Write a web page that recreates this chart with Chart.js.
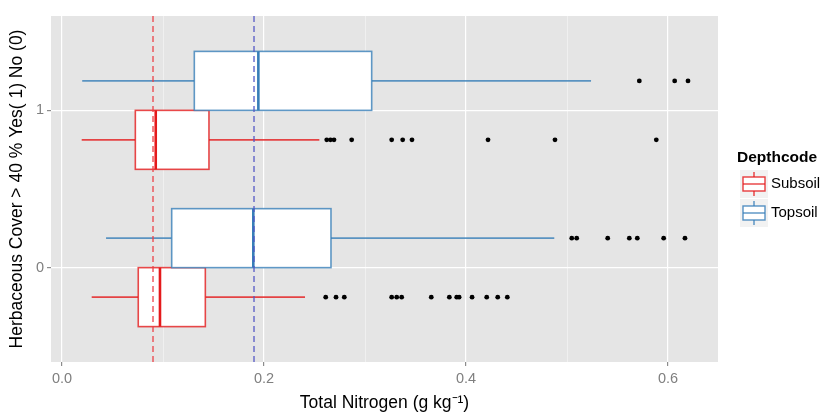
<!DOCTYPE html>
<html>
<head>
<meta charset="utf-8">
<script src="https://cdn.jsdelivr.net/npm/chart.js@4"></script>
<style>
    body { margin: 0; background: #fff; }
</style>
</head>
<body>
<canvas id="boxChart" width="823" height="414"></canvas>
<script>
// Values
const groups = [0, 1];
const depthCodes = ['Subsoil', 'Topsoil'];

// [lower whisker, Q1, median, Q3, upper whisker], one row per group (0, 1)
const subsoilStats = [
    [0.0294, 0.0755, 0.0970, 0.1419, 0.2406],
    [0.0195, 0.0726, 0.0928, 0.1455, 0.2548]
];
const topsoilStats = [
    [0.0436, 0.1086, 0.1894, 0.2663, 0.4874],
    [0.0200, 0.1310, 0.1944, 0.3066, 0.5238]
];

const subsoilOutliers = [
    [0.2611, 0.2713, 0.2795, 0.3264, 0.3314, 0.3363, 0.3656, 0.3835, 0.3908, 0.3932, 0.4060, 0.4205, 0.4314, 0.4409],
    [0.2621, 0.2658, 0.2693, 0.2868, 0.3264, 0.3373, 0.3465, 0.4218, 0.4881, 0.5884]
];
const topsoilOutliers = [
    [0.5047, 0.5096, 0.5403, 0.5617, 0.5696, 0.5957, 0.6168],
    [0.5716, 0.6066, 0.6198]
];

const subsoilMean = 0.0901;
const topsoilMean = 0.1901;

const xMajorTicks = [0, 0.2, 0.4, 0.6];
const xMinorTicks = [0.1, 0.3, 0.5];
const yTicks = [0, 1];

// Style
const FONT = '"Liberation Sans", Arial, Helvetica, sans-serif';
const colors = { Subsoil: '#E41A1C', Topsoil: '#377EB8' };
const dashColors = { Subsoil: 'rgba(236, 60, 66, 0.9)', Topsoil: 'rgba(80, 84, 196, 0.9)' };
const DODGE = 0.1875;   // half of 0.75 / 2
const HALF_BOX = 0.1875;

function dodgeOf(code) {
    return code === 'Subsoil' ? -DODGE : DODGE;
}

function outlierPoints(code, rows) {
    const pts = [];
    rows.forEach((xs, gi) => {
        xs.forEach(x => pts.push({ x: x, y: groups[gi] + dodgeOf(code) }));
    });
    return pts;
}

function isMajor(v) {
    return xMajorTicks.some(t => Math.abs(t - v) < 1e-6);
}

// Grey panel background
const panelBg = {
    id: 'panelBg',
    beforeDraw(chart) {
        const { ctx, chartArea: a } = chart;
        ctx.save();
        ctx.fillStyle = '#E5E5E5';
        ctx.fillRect(a.left, a.top, a.right - a.left, a.bottom - a.top);
        ctx.restore();
    }
};

// Boxes and whiskers
const boxes = {
    id: 'boxes',
    beforeDatasetsDraw(chart) {
        const { ctx, scales: { x, y } } = chart;
        const all = [['Subsoil', subsoilStats], ['Topsoil', topsoilStats]];
        ctx.save();
        all.forEach(([code, rows]) => {
            rows.forEach((s, gi) => {
                const c = groups[gi] + dodgeOf(code);
                const yc = y.getPixelForValue(c);
                const yt = y.getPixelForValue(c + HALF_BOX);
                const yb = y.getPixelForValue(c - HALF_BOX);
                const [wl, q1, med, q3, wr] = s.map(v => x.getPixelForValue(v));

                ctx.strokeStyle = colors[code];
                ctx.globalAlpha = 0.8;
                ctx.lineWidth = 1.6;
                ctx.beginPath();
                ctx.moveTo(wl, yc); ctx.lineTo(q1, yc);
                ctx.moveTo(q3, yc); ctx.lineTo(wr, yc);
                ctx.stroke();

                ctx.globalAlpha = 1;
                ctx.fillStyle = '#FFFFFF';
                ctx.fillRect(q1, yt, q3 - q1, yb - yt);
                ctx.globalAlpha = 0.8;
                ctx.strokeRect(q1, yt, q3 - q1, yb - yt);

                ctx.globalAlpha = 1;
                ctx.lineWidth = 2.6;
                ctx.beginPath();
                ctx.moveTo(med, yt); ctx.lineTo(med, yb);
                ctx.stroke();
            });
        });
        ctx.restore();
    }
};

// Legend on the right
const boxLegend = {
    id: 'boxLegend',
    afterDraw(chart) {
        const ctx = chart.ctx;
        ctx.save();
        ctx.fillStyle = '#000';
        ctx.font = 'bold 15.5px ' + FONT;
        ctx.textBaseline = 'middle';
        ctx.textAlign = 'left';
        ctx.fillText('Depthcode', 737, 158);

        depthCodes.forEach((code, i) => {
            const cy = 184 + i * 29;
            const cx = 754;
            ctx.fillStyle = '#F2F2F2';
            ctx.fillRect(740, cy - 14, 28, 28);

            ctx.strokeStyle = colors[code];
            ctx.globalAlpha = 0.85;
            ctx.lineWidth = 1.4;
            ctx.beginPath();
            ctx.moveTo(cx, cy - 12); ctx.lineTo(cx, cy + 12);
            ctx.stroke();
            ctx.globalAlpha = 1;
            ctx.fillStyle = '#fff';
            ctx.fillRect(743, cy - 7, 22, 14);
            ctx.globalAlpha = 0.85;
            ctx.strokeRect(743, cy - 7, 22, 14);
            ctx.beginPath();
            ctx.moveTo(743, cy); ctx.lineTo(765, cy);
            ctx.stroke();

            ctx.globalAlpha = 1;
            ctx.fillStyle = '#000';
            ctx.font = '15px ' + FONT;
            ctx.fillText(code, 771, cy);
        });
        ctx.restore();
    }
};

const ctx = document.getElementById('boxChart').getContext('2d');
new Chart(ctx, {
    type: 'scatter',
    data: {
        datasets: [
            {
                label: 'Subsoil outliers',
                data: outlierPoints('Subsoil', subsoilOutliers),
                backgroundColor: '#000',
                borderColor: '#000',
                pointRadius: 2.4,
                pointBorderWidth: 0
            },
            {
                label: 'Topsoil outliers',
                data: outlierPoints('Topsoil', topsoilOutliers),
                backgroundColor: '#000',
                borderColor: '#000',
                pointRadius: 2.4,
                pointBorderWidth: 0
            },
            {
                label: 'Subsoil mean',
                data: [{ x: subsoilMean, y: -0.6 }, { x: subsoilMean, y: 1.6 }],
                showLine: true,
                borderColor: dashColors.Subsoil,
                borderWidth: 1.4,
                borderDash: [6, 4],
                pointRadius: 0
            },
            {
                label: 'Topsoil mean',
                data: [{ x: topsoilMean, y: -0.6 }, { x: topsoilMean, y: 1.6 }],
                showLine: true,
                borderColor: dashColors.Topsoil,
                borderWidth: 1.4,
                borderDash: [6, 4],
                pointRadius: 0
            }
        ]
    },
    options: {
        responsive: false,
        animation: false,
        layout: {
            padding: { top: 16, right: 105, left: 0, bottom: 0 }
        },
        plugins: {
            legend: { display: false },
            tooltip: { enabled: false }
        },
        scales: {
            x: {
                type: 'linear',
                min: -0.0109,
                max: 0.6495,
                afterBuildTicks: scale => {
                    scale.ticks = xMajorTicks.concat(xMinorTicks)
                        .sort((a, b) => a - b)
                        .map(v => ({ value: v }));
                },
                afterFit: scale => { scale.height = 52; },
                border: { display: false },
                grid: {
                    color: c => isMajor(c.tick.value) ? '#FFFFFF' : '#F2F2F2',
                    lineWidth: c => isMajor(c.tick.value) ? 1.2 : 0.8,
                    tickColor: c => isMajor(c.tick.value) ? '#8C8C8C' : 'rgba(0,0,0,0)',
                    tickLength: 4
                },
                ticks: {
                    color: '#7F7F7F',
                    font: { family: FONT, size: 14.5 },
                    padding: 4,
                    maxRotation: 0,
                    autoSkip: false,
                    callback: v => isMajor(v) ? v.toFixed(1) : ''
                },
                title: {
                    display: true,
                    text: 'Total Nitrogen (g kg\u207B\u00B9)',
                    color: '#000',
                    font: { family: FONT, size: 17.5 },
                    padding: { top: 0, bottom: 0 }
                }
            },
            y: {
                type: 'linear',
                min: -0.6,
                max: 1.6,
                afterBuildTicks: scale => {
                    scale.ticks = yTicks.map(v => ({ value: v }));
                },
                afterFit: scale => { scale.width = 51; },
                border: { display: false },
                grid: {
                    color: '#FFFFFF',
                    lineWidth: 1.2,
                    tickColor: '#8C8C8C',
                    tickLength: 4
                },
                ticks: {
                    color: '#7F7F7F',
                    font: { family: FONT, size: 14.5 },
                    padding: 3,
                    callback: v => String(v)
                },
                title: {
                    display: true,
                    text: 'Herbaceous Cover > 40 % Yes( 1) No (0)',
                    color: '#000',
                    font: { family: FONT, size: 17.5 },
                    padding: { top: 7, bottom: 0 }
                }
            }
        }
    },
    plugins: [panelBg, boxes, boxLegend]
});
</script>
</body>
</html>
